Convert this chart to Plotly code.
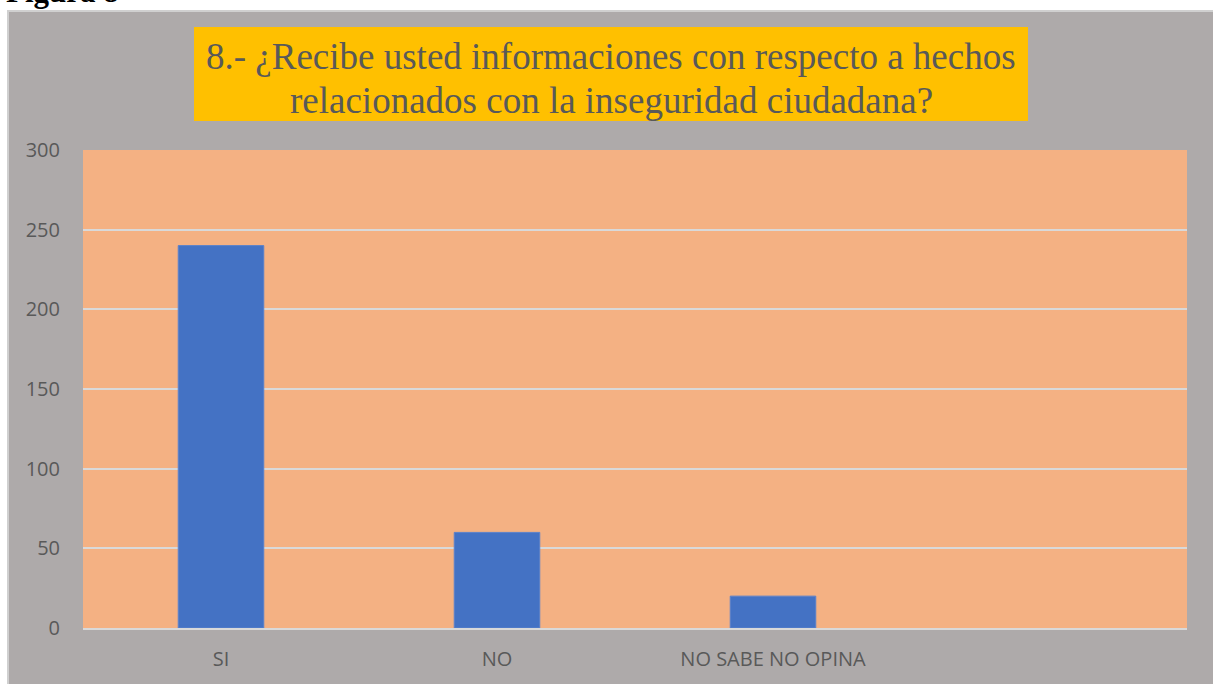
import plotly.graph_objects as go

categories = ["SI", "NO", "NO SABE NO OPINA"]
values = [240, 60, 20]
y_ticks = [0, 50, 100, 150, 200, 250, 300]
title_lines = ["8.- ¿Recibe usted informaciones con respecto a hechos",
               "relacionados con la inseguridad ciudadana?"]
caption_text = "Figura 8"

W, H = 1213, 684
L, R, T, B = 83, 26, 150, 56
PW, PH = W - L - R, H - T - B

def px_x(px):
    return (px - L) / PW

def px_y(py):
    return (H - B - py) / PH

AXIS_FONT = dict(size=20, color="#595959", family="Open Sans, Lato, sans-serif")
SERIF = "Liberation Serif, Times New Roman, serif"

fig = go.Figure()
fig.add_trace(go.Bar(
    x=categories, y=values,
    marker=dict(color="#4472c4", line=dict(color="#5a82cc", width=1)),
    width=0.31,
))

fig.update_layout(
    width=W, height=H,
    margin=dict(l=L, r=R, t=T, b=B, pad=0, autoexpand=False),
    paper_bgcolor="#aeaaaa",
    plot_bgcolor="#f4b183",
    showlegend=False,
    font=dict(family="Open Sans, sans-serif", color="#595959"),
    xaxis=dict(
        type="category",
        categoryorder="array", categoryarray=categories,
        range=[-0.5, 3.5],
        showgrid=False, zeroline=False,
        showline=True, linecolor="#d9d9d9", linewidth=2,
        ticks="", ticklabelstandoff=12,
        tickfont=AXIS_FONT,
        automargin=False,
        fixedrange=True,
    ),
    yaxis=dict(
        range=[0, 300],
        tickvals=y_ticks,
        showgrid=True, gridcolor="#d9d9d9", gridwidth=1.5,
        zeroline=False, showline=False,
        ticks="", ticklabelstandoff=22,
        tickfont=AXIS_FONT,
        automargin=False,
        fixedrange=True,
    ),
    bargap=0.69,
)

# white page edges (top strip and left strip) with light border
fig.add_shape(type="rect", xref="paper", yref="paper",
              x0=px_x(-5), x1=px_x(W + 5), y0=px_y(10), y1=px_y(-10),
              fillcolor="white", line=dict(width=0), layer="above")
fig.add_shape(type="rect", xref="paper", yref="paper",
              x0=px_x(-10), x1=px_x(7), y0=px_y(H + 10), y1=px_y(-10),
              fillcolor="white", line=dict(width=0), layer="above")
fig.add_shape(type="rect", xref="paper", yref="paper",
              x0=px_x(8), x1=px_x(W + 5), y0=px_y(H + 5), y1=px_y(11),
              fillcolor="rgba(0,0,0,0)", line=dict(color="#d0d0d0", width=2), layer="above")

# title box
fig.add_shape(type="rect", xref="paper", yref="paper",
              x0=px_x(194), x1=px_x(1028), y0=px_y(121), y1=px_y(27),
              fillcolor="#ffc000", line=dict(width=0), layer="above")
for line_text, cy in zip(title_lines, [56, 100]):
    fig.add_annotation(
        xref="paper", yref="paper",
        x=px_x(611), y=px_y(cy), xanchor="center", yanchor="middle",
        text=line_text, showarrow=False,
        font=dict(family=SERIF, size=37, color="#595959"),
    )

# cut-off caption at the top (as in the reference)
fig.add_annotation(
    xref="paper", yref="paper",
    x=px_x(4), y=px_y(11), xanchor="left", yanchor="bottom",
    text="<b>" + caption_text + "</b>", showarrow=False,
    font=dict(family=SERIF, size=31, color="black"),
)

fig.write_html("out.html", config={"displayModeBar": False},
               post_script="document.body.style.margin='0';")
